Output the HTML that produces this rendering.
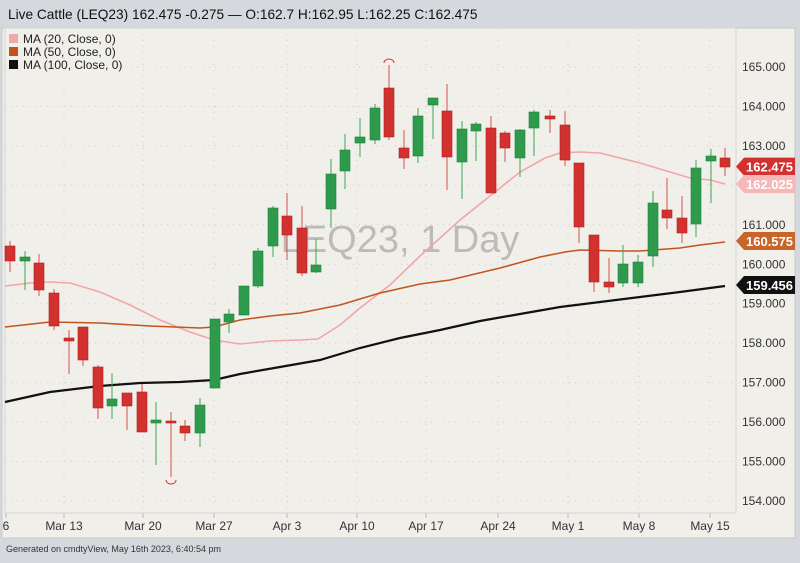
<!DOCTYPE html>
<html><head><meta charset="utf-8"><style>
body{margin:0;width:800px;height:558px;background:#d5d8dc;font-family:"Liberation Sans",sans-serif;overflow:hidden}
</style></head><body>
<svg id="s" width="800" height="558" xmlns="http://www.w3.org/2000/svg" font-family="Liberation Sans, sans-serif">
<rect x="0" y="0" width="800" height="558" fill="#d5d8dc"/>
<text x="8" y="19" font-size="13.7" fill="#111">Live Cattle (LEQ23) 162.475 -0.275 — O:162.7 H:162.95 L:162.25 C:162.475</text>
<rect x="2" y="28" width="793" height="510" fill="#f1efea" stroke="#c8c8c8"/>
<rect x="5" y="28" width="731" height="485" fill="#f1efea" stroke="#d8d6d2"/>
<g id="grid"></g>
<text x="400" y="252" font-size="38" fill="#bdbbb8" text-anchor="middle">LEQ23, 1 Day</text>
<g id="ma"></g>
<g id="c"></g>
<g font-size="12" fill="#222">
<rect x="9" y="34" width="9" height="9" fill="#f0a8a8"/><text x="23" y="43">MA (20, Close, 0)</text>
<rect x="9" y="47" width="9" height="9" fill="#c0561e"/><text x="23" y="56">MA (50, Close, 0)</text>
<rect x="9" y="60" width="9" height="9" fill="#111"/><text x="23" y="69">MA (100, Close, 0)</text>
</g>
<g id="ax" font-size="12" fill="#333"></g>
<text x="6" y="552" font-size="9" fill="#333">Generated on cmdtyView, May 16th 2023, 6:40:54 pm</text>
</svg>
<script>
const NS="http://www.w3.org/2000/svg";
function el(p,t,a,txt){const e=document.createElementNS(NS,t);for(const k in a)e.setAttribute(k,a[k]);if(txt)e.textContent=txt;document.getElementById(p).appendChild(e);return e;}
const Y=p=>67+(165-p)*39.45;
for(let p=154;p<=165;p++){const y=Y(p);el('grid','line',{x1:5,x2:736,y1:y,y2:y,stroke:'#cfccc6','stroke-dasharray':'1 5'});
el('ax','text',{x:742,y:y+4},p+'.000');}
const dates=[[6,'6'],[64,'Mar 13'],[143,'Mar 20'],[214,'Mar 27'],[287,'Apr 3'],[357,'Apr 10'],[426,'Apr 17'],[498,'Apr 24'],[568,'May 1'],[639,'May 8'],[710,'May 15']];
dates.forEach(([x,t])=>{if(x>10)el('grid','line',{x1:x,x2:x,y1:28,y2:513,stroke:'#cfccc6','stroke-dasharray':'1 5'});
el('grid','line',{x1:x,x2:x,y1:513,y2:518,stroke:'#bbb'});el('ax','text',{x:x,y:530,'text-anchor':'middle'},t);});
const C=[[10,241,246,261,272,0],[25,251,257,261,290,1],[39,254,263,290,296,0],[54,289,293,326,330,0],[69,330,338,341,374,0],[83,327,327,360,366,0],[98,365,367,408,419,0],[112,373,399,406,419,1],[127,393,393,406,430,0],[142,384,392,432,432,0],[156,402,420,423,465,1],[171,412,421,423,477,0],[185,420,426,433,441,0],[200,398,405,433,447,1],[215,319,319,388,388,1],[229,309,314,322,333,1],[244,286,286,315,315,1],[258,248,251,286,288,1],[273,206,208,246,257,1],[287,193,216,235,260,0],[302,206,228,273,276,0],[316,239,265,272,273,1],[331,159,174,209,228,1],[345,134,150,171,189,1],[360,118,137,143,157,1],[375,104,108,140,144,1],[389,65,88,137,140,0],[404,130,148,158,169,0],[418,108,116,156,163,1],[433,98,98,105,139,1],[447,84,111,157,190,0],[462,121,129,162,199,1],[476,122,124,131,161,1],[491,116,128,193,193,0],[505,131,133,148,162,0],[520,129,130,158,177,1],[534,110,112,128,156,1],[550,110,116,119,133,0],[565,111,125,160,166,0],[579,163,163,227,243,0],[594,235,235,282,292,0],[609,258,282,287,293,0],[623,245,264,283,287,1],[638,255,262,283,287,1],[653,191,203,256,267,1],[667,178,210,218,229,0],[682,196,218,233,243,0],[696,160,168,224,237,1],[711,149,156,161,203,1],[725,148,158,167,176,0]];
const MA=[
['#f2a7a5',1.6,[[5,286],[30,283],[50,282],[70,283],[100,292],[130,305],[160,320],[190,332],[214,340],[240,344],[270,341],[300,340],[318,339],[340,325],[360,308],[390,285],[420,256],[460,220],[490,196],[520,172],[545,158],[560,153],[580,152],[600,153],[640,163],[670,172],[690,178],[710,180],[725,184]]],
['#c0561e',1.6,[[5,327],[50,322],[100,323],[150,326],[200,328],[214,327],[240,320],[270,316],[300,313],[340,305],[380,293],[420,284],[450,280],[500,268],[540,257],[565,252],[580,250],[620,251],[640,251],[680,248],[700,245],[725,242]]],
['#111',2.2,[[5,402],[50,392],[100,386],[140,383],[180,382],[214,380],[240,374],[280,367],[320,360],[360,348],[400,338],[440,330],[480,321],[520,314],[560,307],[600,302],[640,297],[680,292],[725,286]]]];
MA.forEach(([c,w,pts])=>el('ma','polyline',{points:pts.map(p=>p.join(',')).join(' '),fill:'none',stroke:c,'stroke-width':w}));
C.forEach(([x,wt,bt,bb,wb,g])=>{const col=g?'#2e9a4c':'#d3312f';const sc=g?'#23803c':'#a82222';
el('c','line',{x1:x,x2:x,y1:wt,y2:wb,stroke:g?'#3aa655':'#d9504c','stroke-width':1});
el('c','rect',{x:x-5,y:bt,width:10,height:Math.max(bb-bt,2),fill:col,stroke:sc,'stroke-width':0.6});});
el('c','path',{d:'M166,480 A5,4 0 0 0 176,480',fill:'none',stroke:'#d3312f'});
el('c','path',{d:'M384,63 A5,4 0 0 1 394,63',fill:'none',stroke:'#d3312f'});
[[166.6,'#d3312f','#fff','162.475'],[184,'#f5b8b6','#fff','162.025'],[241,'#c8652a','#fff','160.575'],[285,'#111','#fff','159.456']].forEach(([y,bg,fg,t])=>{
el('ax','path',{d:`M736,${y} L744,${y-9} L795,${y-9} L795,${y+9} L744,${y+9} Z`,fill:bg});
el('ax','text',{x:746,y:y+5,fill:fg,'font-size':13,'font-weight':'bold'},t);});
</script>
</body></html>
